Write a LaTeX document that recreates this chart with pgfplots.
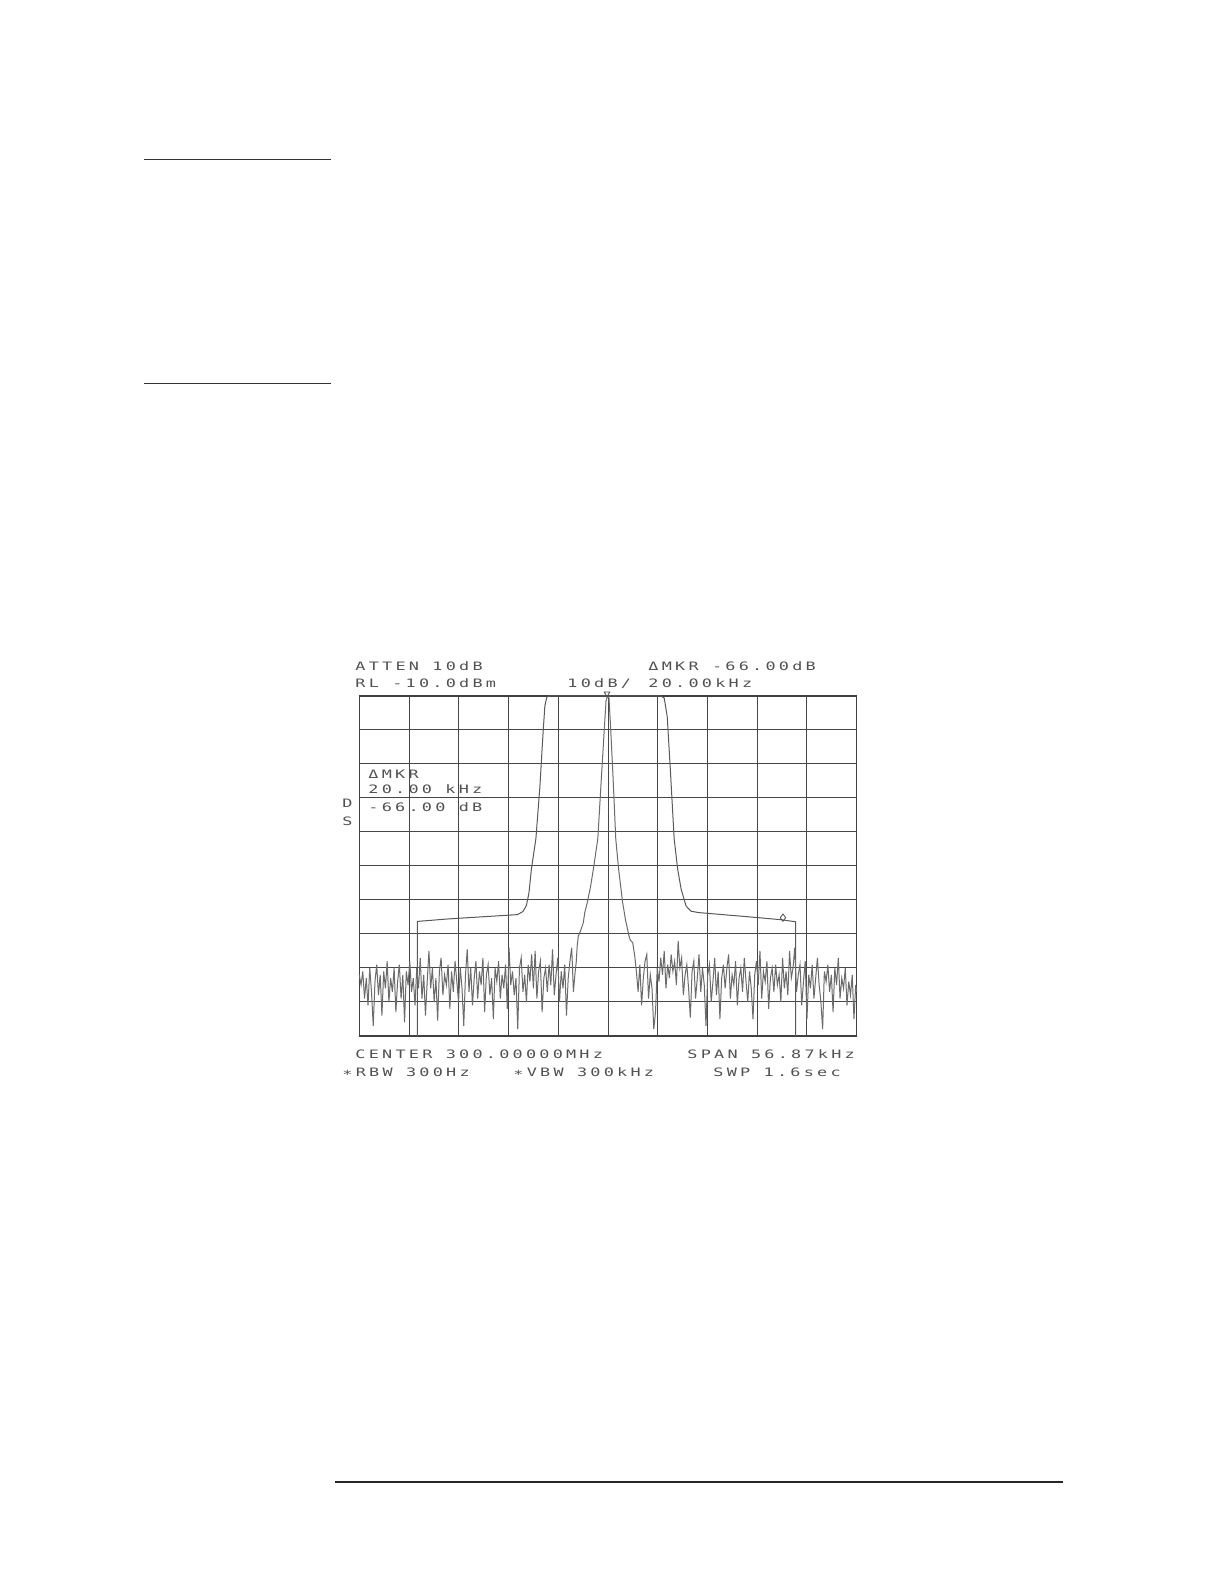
\documentclass[border=0pt]{standalone}
\usepackage{fontspec}
\usepackage{pgfplots}
\usepackage{pgfplotstable}
\pgfplotsset{compat=1.18}
\newfontfamily\hpfont[FakeStretch=1.45,LetterSpace=28]{DejaVu Sans Mono}
\newcommand\hp{\hpfont\fontsize{5.8bp}{7bp}\selectfont}

% filter response (x in divisions, y in dBm)
\pgfplotstableread{
x y
1.168 -110
1.168 -76.3
1.76 -75.6
2.52 -74.9
3.18 -74.3
3.29 -73.4
3.36 -71.6
3.41 -68.0
3.46 -60.9
3.55 -52.0
3.63 -36.8
3.69 -21.9
3.73 -13.0
3.77 -10.3
3.83 -10
6.06 -10
6.13 -10.6
6.19 -16
6.25 -30.8
6.33 -52
6.40 -60.9
6.47 -66.8
6.57 -71.8
6.67 -73.3
6.82 -73.7
7.71 -74.8
8.48 -75.8
8.77 -76.4
8.77 -110
}\filtertab

% signal with noise floor
\pgfplotstableread{
x y
0 -92
0.035 -95
0.07 -91
0.105 -99
0.14 -93
0.175 -101
0.21 -90
0.245 -97
0.28 -107
0.315 -94
0.35 -89
0.385 -98
0.42 -92
0.455 -104
0.49 -91
0.525 -96
0.56 -88
0.595 -100
0.63 -93
0.665 -97
0.7 -90
0.735 -103
0.77 -94
0.805 -89
0.84 -99
0.875 -92
0.91 -106
0.945 -91
0.98 -95
1.015 -88
1.05 -97
1.085 -93
1.12 -101
1.155 -90
1.19 -96
1.225 -87
1.26 -99
1.295 -92
1.33 -104
1.365 -94
1.4 -85
1.435 -96
1.47 -90
1.505 -100
1.54 -93
1.575 -105.5
1.61 -91
1.645 -87
1.68 -98
1.715 -92
1.75 -95
1.785 -89
1.82 -102
1.855 -91
1.89 -97
1.925 -88
1.96 -94
1.995 -100
2.03 -90
2.065 -96
2.1 -107
2.135 -92
2.17 -84.5
2.205 -97
2.24 -90
2.275 -101
2.31 -93
2.345 -88
2.38 -99
2.415 -91
2.45 -95
2.485 -87
2.52 -103
2.555 -92
2.59 -89
2.625 -98
2.66 -93
2.695 -105
2.73 -90
2.765 -94
2.8 -88
2.835 -99
2.87 -92
2.905 -96
2.94 -89
2.975 -102
3.01 -84
3.045 -95
3.08 -91
3.115 -98
3.15 -93
3.185 -108
3.22 -90
3.255 -87
3.29 -97
3.325 -92
3.36 -100
3.395 -89
3.43 -94
3.465 -86
3.5 -96
3.535 -85
3.57 -99
3.605 -91
3.64 -88
3.675 -103
3.71 -93
3.745 -90
3.78 -97
3.815 -89
3.85 -95
3.885 -84.5
3.92 -98
3.955 -92
3.99 -87
4.025 -100
4.06 -91
4.095 -96
4.13 -89
4.165 -104
4.2 -93
4.235 -88
4.27 -84
4.305 -97
4.34 -91
4.36 -88.5
4.381 -83.5
4.402 -80.7
4.45 -79
4.503 -76.7
4.533 -73.7
4.584 -70.7
4.65 -66
4.706 -60.9
4.795 -52.0
4.868 -33.8
4.929 -18.9
4.96 -11.5
4.99 -10
5.02 -10.6
5.051 -18.9
5.101 -33.8
5.156 -52
5.213 -60.9
5.294 -70.7
5.355 -76.1
5.396 -78.75
5.42 -80.5
5.446 -81.7
5.497 -82.6
5.538 -86.5
5.57 -91
5.605 -97
5.64 -89
5.675 -101
5.71 -93
5.745 -88
5.78 -86
5.815 -99
5.85 -92
5.885 -96
5.92 -108
5.955 -103
5.99 -90
6.025 -94
6.06 -87
6.095 -92
6.13 -85
6.165 -96
6.2 -89
6.235 -93
6.27 -86
6.305 -91
6.34 -88
6.375 -95
6.41 -82
6.445 -90
6.48 -87
6.515 -98
6.55 -92
6.585 -89
6.62 -96
6.655 -104.6
6.69 -91
6.725 -88
6.76 -99
6.795 -93
6.83 -86
6.865 -97
6.9 -90
6.935 -95
6.97 -107
7.005 -92
7.04 -89
7.075 -100
7.11 -94
7.145 -87
7.18 -98
7.215 -91
7.25 -105
7.285 -93
7.32 -89
7.355 -96
7.39 -90
7.425 -86
7.46 -99
7.495 -92
7.53 -95
7.565 -88
7.6 -101
7.635 -93
7.67 -90
7.705 -97
7.74 -87
7.775 -94
7.81 -100
7.845 -91
7.88 -96
7.915 -105
7.95 -92
7.985 -88
8.02 -95
8.055 -85
8.09 -99
8.125 -91
8.16 -94
8.195 -88
8.23 -102
8.265 -93
8.3 -90
8.335 -97
8.37 -89
8.405 -95
8.44 -92
8.475 -100
8.51 -87
8.545 -96
8.58 -91
8.615 -98
8.65 -85
8.685 -93
8.72 -90
8.755 -84
8.79 -97
8.825 -92
8.86 -89
8.895 -101
8.93 -94
8.965 -88
9.0 -105
9.035 -92
9.07 -96
9.105 -89
9.14 -99
9.175 -93
9.21 -87
9.245 -95
9.28 -100
9.315 -108
9.35 -91
9.385 -94
9.42 -89
9.455 -97
9.49 -92
9.525 -103
9.56 -90
9.595 -95
9.63 -87
9.665 -99
9.7 -93
9.735 -96
9.77 -90
9.805 -101
9.84 -94
9.875 -98
9.91 -92
9.945 -105
9.98 -95
10.0 -97
}\signaltab

\begin{document}
\begin{tikzpicture}
\fill[white] (0,0) rectangle (612bp,791bp);
\path[use as bounding box] (0,0) rectangle (612bp,791bp);

% page rules
\draw[black!80, line width=0.7bp] (72.2bp,711.25bp) -- (165.5bp,711.25bp);
\draw[black!80, line width=0.7bp] (72.2bp,599.2bp) -- (165.5bp,599.2bp);
\draw[black!85, line width=1bp] (167.5bp,50bp) -- (531.5bp,50bp);

\begin{axis}[
  at={(179.65bp,273bp)}, anchor=south west,
  scale only axis, width=248.7bp, height=170bp,
  xmin=0, xmax=10, ymin=-110, ymax=-10,
  xtick={0,1,...,10}, ytick={-110,-100,...,-10},
  xticklabels={}, yticklabels={},
  major tick length=0pt,
  grid=major,
  grid style={black!72, line width=0.5bp},
  axis line style={black!75, line width=0.55bp},
  clip=false,
]
\addplot[black!65, line width=0.5bp] table[x=x,y=y] {\filtertab};
\addplot[black!58, line width=0.5bp] table[x=x,y=y] {\signaltab};
\addplot[only marks, mark=triangle, mark size=1.6bp, mark options={rotate=180, black!70, line width=0.4bp}] coordinates {(4.98,-9.3)};
\addplot[only marks, mark=diamond, mark size=1.8bp, mark options={black!70, line width=0.4bp}] coordinates {(8.517,-75.2)};
\end{axis}

\begin{scope}[every node/.style={inner sep=0pt, anchor=base west, text=black!68, font=\hp}]
\node at (177.5bp,455.5bp) {ATTEN 10dB};
\node at (177.5bp,447bp) {RL -10.0dBm};
\node at (283.5bp,447bp) {10dB/};
\node at (324bp,455.5bp) {ΔMKR -66.00dB};
\node at (324bp,447bp) {20.00kHz};
\node at (184bp,401.75bp) {ΔMKR};
\node at (184bp,394bp) {20.00 kHz};
\node at (184bp,385.2bp) {-66.00 dB};
\node at (171bp,387bp) {D};
\node at (171bp,378bp) {S};
\node at (177.5bp,261.5bp) {CENTER 300.00000MHz};
\node at (343.5bp,261.5bp) {SPAN 56.87kHz};
\node at (171bp,252.5bp) {∗RBW 300Hz};
\node at (256.5bp,252.5bp) {∗VBW 300kHz};
\node at (356.5bp,252.5bp) {SWP 1.6sec};
\end{scope}
\end{tikzpicture}
\end{document}
